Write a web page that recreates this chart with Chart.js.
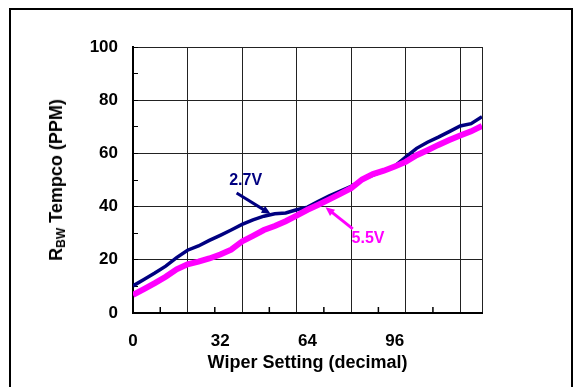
<!DOCTYPE html>
<html>
<head>
<meta charset="utf-8">
<script src="https://cdn.jsdelivr.net/npm/chart.js@4/dist/chart.umd.min.js"></script>
<style>
  body { margin: 0; background: #fff; overflow: hidden; }
  #wrap { position: relative; width: 575px; height: 387px; }
  #frame { position: absolute; left: 9px; top: 8px; width: 560px; height: 400px; border: 2px solid #000; }
  #chart1 { position: absolute; left: 0; top: 0; }
  #ytitle {
    position: absolute; left: 57px; top: 180px;
    transform: translate(-50%, -50%) rotate(-90deg);
    font: bold 18px Arial, "Liberation Sans", sans-serif;
    white-space: nowrap; color: #000;
  }
  #ytitle sub { font-size: 12px; vertical-align: -3px; }
</style>
</head>
<body>
<div id="wrap">
  <div id="frame"></div>
  <canvas id="chart1" width="575" height="387"></canvas>
  <div id="ytitle">R<sub>BW</sub> Tempco (PPM)</div>
</div>
<script>
  // wiper setting (decimal)
  const wiper = [0, 4, 8, 12, 16, 20, 24, 28, 32, 36, 40, 44, 48, 52, 56, 60, 64,
    68, 72, 76, 80, 84, 88, 92, 96, 100, 104, 108, 112, 116, 120, 124, 128];

  // RBW tempco (PPM) at 2.7V
  const tempco27 = [10.2, 12.6, 15.0, 17.6, 20.8, 23.6, 25.2, 27.3, 29.2, 31.2, 33.3, 35.0, 36.4, 37.3, 37.6, 38.8, 39.8,
    42.0, 44.0, 45.8, 47.6, 50.0, 51.8, 53.4, 55.2, 58.6, 61.9, 64.2, 66.1, 68.2, 70.3, 71.2, 73.8];

  // RBW tempco (PPM) at 5.5V
  const tempco55 = [6.8, 9.0, 11.2, 13.6, 16.4, 18.3, 19.3, 20.5, 22.0, 23.8, 26.9, 29.0, 31.2, 32.7, 34.5, 36.6, 38.8,
    40.7, 42.7, 44.8, 46.9, 50.2, 52.2, 53.5, 55.1, 56.8, 59.3, 61.2, 63.2, 65.0, 66.7, 68.3, 70.3];

  const xLabels = [0, 32, 64, 96];
  const xGrid = [0, 10, 20, 30, 40, 50, 60, 70, 80, 90, 100, 110, 120, 128];
  const xMinor = [10, 30, 50, 70, 90, 110];

  // callouts: label position and arrow from -> to, in data units
  const callouts = [
    { text: "2.7V", color: "#000080", at: [41.3, 49.6], from: [38, 45.1], to: [50.5, 37.2] },
    { text: "5.5V", color: "#ff00ff", at: [86.2, 27.8], from: [80.6, 31.6], to: [70.6, 39.8] },
  ];

  Chart.defaults.font.family = 'Arial, "Liberation Sans", sans-serif';
  Chart.defaults.color = "#000";

  const calloutPlugin = {
    id: "callouts",
    afterDatasetsDraw(chart) {
      const { ctx, scales } = chart;
      const sx = scales.x, sy = scales.y;
      ctx.save();

      // inside tick marks on the x axis
      const base = sy.getPixelForValue(0);
      ctx.strokeStyle = "#000";
      ctx.lineWidth = 1.5;
      xMinor.forEach((v) => {
        const px = sx.getPixelForValue(v);
        ctx.beginPath();
        ctx.moveTo(px, base);
        ctx.lineTo(px, base - 6);
        ctx.stroke();
      });

      callouts.forEach((c) => {
        const x1 = sx.getPixelForValue(c.from[0]), y1 = sy.getPixelForValue(c.from[1]);
        const x2 = sx.getPixelForValue(c.to[0]), y2 = sy.getPixelForValue(c.to[1]);
        const ang = Math.atan2(y2 - y1, x2 - x1);
        ctx.strokeStyle = c.color;
        ctx.fillStyle = c.color;
        ctx.lineWidth = 3;
        ctx.beginPath();
        ctx.moveTo(x1, y1);
        ctx.lineTo(x2 - 6 * Math.cos(ang), y2 - 6 * Math.sin(ang));
        ctx.stroke();
        ctx.beginPath();
        ctx.moveTo(x2, y2);
        ctx.lineTo(x2 - 9 * Math.cos(ang) + 4 * Math.sin(ang), y2 - 9 * Math.sin(ang) - 4 * Math.cos(ang));
        ctx.lineTo(x2 - 9 * Math.cos(ang) - 4 * Math.sin(ang), y2 - 9 * Math.sin(ang) + 4 * Math.cos(ang));
        ctx.closePath();
        ctx.fill();
        ctx.font = 'bold 16px Arial, "Liberation Sans", sans-serif';
        ctx.textAlign = "center";
        ctx.textBaseline = "middle";
        ctx.fillText(c.text, sx.getPixelForValue(c.at[0]), sy.getPixelForValue(c.at[1]));
      });
      ctx.restore();
    },
  };

  new Chart(document.getElementById("chart1").getContext("2d"), {
    type: "line",
    data: {
      datasets: [
        {
          label: "5.5V",
          data: wiper.map((w, i) => ({ x: w, y: tempco55[i] })),
          borderColor: "#ff00ff",
          borderWidth: 6,
          pointRadius: 0,
          tension: 0,
          order: 0,
        },
        {
          label: "2.7V",
          data: wiper.map((w, i) => ({ x: w, y: tempco27[i] })),
          borderColor: "#000080",
          borderWidth: 3.5,
          pointRadius: 0,
          tension: 0,
          order: 1,
        },
      ],
    },
    options: {
      responsive: false,
      animation: false,
      devicePixelRatio: 1,
      layout: { padding: { left: 0, top: 47, right: 93, bottom: 0 } },
      plugins: { legend: { display: false }, tooltip: { enabled: false } },
      scales: {
        x: {
          type: "linear",
          min: 0,
          max: 128,
          afterBuildTicks: (s) => {
            const vals = [...new Set(xGrid.concat(xLabels))].sort((a, b) => a - b);
            s.ticks = vals.map((v) => ({ value: v }));
          },
          afterFit: (s) => { s.height = 74; },
          ticks: {
            autoSkip: false,
            maxRotation: 0,
            padding: 18,
            font: { size: 17, weight: "bold" },
            callback: (v) => (xLabels.includes(v) ? String(v) : ""),
          },
          grid: {
            color: (c) => (c.tick && (c.tick.value % 20 === 0 || c.tick.value === 128) ? "#222" : "rgba(0,0,0,0)"),
            drawTicks: false,
            lineWidth: 1,
          },
          border: { color: "#000", width: 2 },
          title: {
            display: true,
            text: "Wiper Setting (decimal)",
            font: { size: 18, weight: "bold" },
            padding: { top: 0, bottom: 13 },
          },
        },
        y: {
          min: 0,
          max: 100,
          afterFit: (s) => { s.width = 133; },
          ticks: {
            stepSize: 10,
            padding: 20,
            font: { size: 17, weight: "bold" },
            callback: (v) => (v % 20 === 0 ? String(v) : ""),
          },
          grid: {
            color: (c) => (c.tick && c.tick.value % 20 === 0 ? "#222" : "rgba(0,0,0,0)"),
            tickColor: "#000",
            tickLength: -5,
            lineWidth: 1,
          },
          border: { color: "#000", width: 2 },
        },
      },
    },
    plugins: [calloutPlugin],
  });
</script>
</body>
</html>
